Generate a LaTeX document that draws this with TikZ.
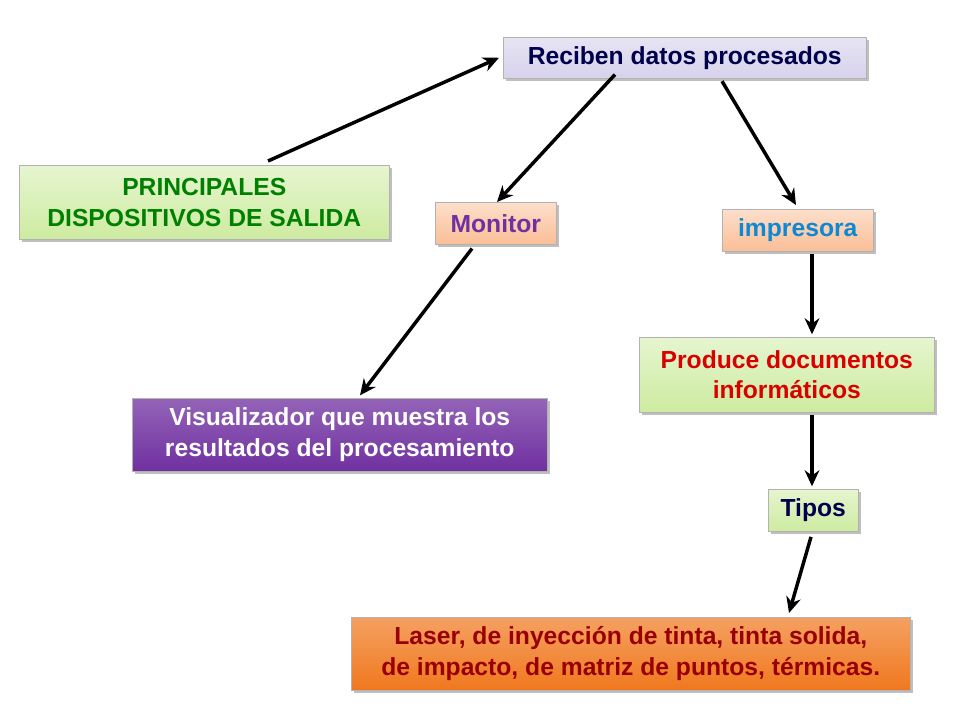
\documentclass[tikz,border=0pt]{standalone}
\usepackage{fontspec}
\setmainfont{Liberation Sans}
\usetikzlibrary{shadows,arrows.meta}
\definecolor{grn}{RGB}{205,235,160}
\definecolor{peach}{RGB}{250,190,150}
\definecolor{lav}{RGB}{215,210,235}
\definecolor{purp}{RGB}{112,48,160}
\definecolor{orng}{RGB}{240,120,30}
\tikzset{
  box/.style={draw=gray!60, line width=0.4pt, drop shadow={shadow xshift=2pt,shadow yshift=-2pt,opacity=0.5}, font=\bfseries\fontsize{18.5}{23}\selectfont, align=center, inner sep=0pt, anchor=north west},
  arr/.style={-{Stealth[length=12pt,width=11pt]}, line width=2.6pt},
}
\begin{document}
\begin{tikzpicture}[x=0.75pt,y=-0.75pt]
\useasboundingbox[fill=white] (0,0) rectangle (960,720);
\node[box, top color=lav!60, bottom color=lav, text=blue!30!black, minimum width=363*0.75pt, minimum height=41*0.75pt] (rec) at (503,37) {Reciben datos procesados};
\node[box, top color=grn!50, bottom color=grn, text=green!50!black, minimum width=370*0.75pt, minimum height=74*0.75pt] (pri) at (19,165) {PRINCIPALES\\DISPOSITIVOS DE SALIDA};
\node[box, top color=peach!50, bottom color=peach, text=purp, minimum width=121*0.75pt, minimum height=42*0.75pt] (mon) at (435,202) {Monitor};
\node[box, top color=peach!50, bottom color=peach, text=cyan!70!blue, minimum width=151*0.75pt, minimum height=42*0.75pt] (imp) at (722,209) {impresora};
\node[box, top color=grn!50, bottom color=grn, text=red!85!black, minimum width=295*0.75pt, minimum height=75*0.75pt] (pro) at (639,337) {Produce documentos\\informáticos};
\node[box, top color=purp!75, bottom color=purp, text=white, minimum width=415*0.75pt, minimum height=73*0.75pt] (vis) at (132,398) {Visualizador que muestra los\\resultados del procesamiento};
\node[box, top color=grn!50, bottom color=grn, text=blue!30!black, minimum width=90*0.75pt, minimum height=42*0.75pt] (tip) at (768,489) {Tipos};
\node[box, top color=orng!70, bottom color=orng, text=red!60!black, minimum width=559*0.75pt, minimum height=73*0.75pt] (las) at (351,617) {Laser, de inyección de tinta, tinta solida,\\de impacto, de matriz de puntos, térmicas.};
\draw[arr] ([xshift=249*0.75pt,yshift=3pt]pri.north west) -- ([xshift=-3pt]rec.west);
\draw[arr] ([xshift=112*0.75pt,yshift=3pt]rec.south west) -- ([xshift=62*0.75pt]mon.north west);
\draw[arr] ([xshift=219*0.75pt,yshift=-2pt]rec.south west) -- ([xshift=74*0.75pt,yshift=3pt]imp.north west);
\draw[arr] ([xshift=37*0.75pt,yshift=-3pt]mon.south west) -- ([xshift=228*0.75pt,yshift=2pt]vis.north west);
\draw[arr] ([xshift=90*0.75pt,yshift=-2pt]imp.south west) -- ([xshift=173*0.75pt,yshift=2pt]pro.north west);
\draw[arr] ([xshift=173*0.75pt,yshift=-2pt]pro.south west) -- ([xshift=44*0.75pt,yshift=2pt]tip.north west);
\draw[arr] ([xshift=43*0.75pt,yshift=-4pt]tip.south west) -- ([xshift=438*0.75pt,yshift=3pt]las.north west);
\end{tikzpicture}
\end{document}
